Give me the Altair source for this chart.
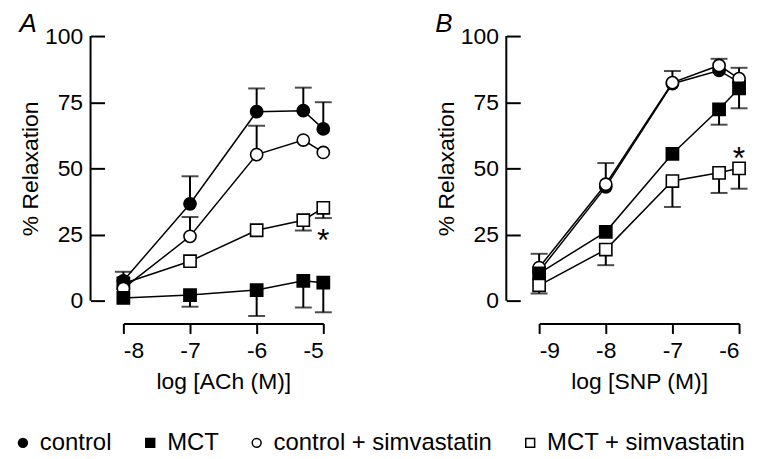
import altair as alt
import pandas as pd

series = ["control", "MCT", "control + simvastatin", "MCT + simvastatin"]
draw_order = [1, 3, 2, 0]

# Panel A: ACh
a_x = [-8, -7, -6, -5.3, -5]
a_control = [7.5, 36.6, 71.4, 71.8, 64.9]
a_control_err = [10.9, 47.0, 80.2, 80.5, 75.0]
a_mct = [1.0, 2.1, 4.0, 7.5, 6.8]
a_mct_err = [None, -2.3, -5.8, -2.6, -4.4]
a_csim = [4.6, 24.3, 55.2, 60.7, 56.0]
a_csim_err = [None, 31.6, 66.1, None, None]
a_msim = [6.5, 14.9, 26.6, 30.4, 35.1]
a_msim_err = [None, None, None, 26.5, 31.2]
a_star = [-5, 24.7]

# Panel B: SNP
b_x = [-9, -8, -7, -6.3, -6]
b_control = [11.0, 43.0, 82.0, 87.0, 82.5]
b_control_err = [None, None, None, None, None]
b_mct = [10.3, 26.0, 55.5, 72.3, 80.2]
b_mct_err = [None, None, None, 66.5, 72.7]
b_csim = [12.5, 44.0, 82.4, 88.9, 83.9]
b_csim_err = [17.7, 52.0, 86.8, 91.4, 88.0]
b_msim = [5.8, 19.3, 45.2, 48.3, 50.0]
b_msim_err = [2.7, 13.4, 35.4, 40.7, 42.3]
b_star = [-6, 55.8]

y_ticks = [0, 25, 50, 75, 100]
a_ticks = [-8, -7, -6, -5]
b_ticks = [-9, -8, -7, -6]

FONT = "Liberation Sans"
FS = 23


def build(xs, cols, errs):
    rows = []
    for k, (name, vals, ev) in enumerate(zip(series, cols, errs)):
        for x, v, e in zip(xs, vals, ev):
            rows.append({"x": x, "y": v, "err": e, "series": name, "order": draw_order[k]})
    return pd.DataFrame(rows)


shape_scale = alt.Scale(domain=series, range=["circle", "square", "circle", "square"])
fill_scale = alt.Scale(domain=series, range=["black", "black", "white", "white"])
stroke_scale = alt.Scale(domain=series, range=["black", "black", "black", "black"])
legend = alt.Legend(
    title=None, orient="none", direction="horizontal", legendX=-113, legendY=397,
    labelFontSize=24, labelFont=FONT, labelLimit=500, symbolSize=80,
    symbolStrokeColor="black", symbolStrokeWidth=1.5, columnPadding=26,
    labelOffset=5, labelColor="black", padding=0,
)


def panel(df, ticks, domain, xtitle, star, letter):
    xs = alt.Scale(domain=domain, nice=False, zero=False)
    ys = alt.Scale(domain=[0, 100], nice=False, zero=False)
    xaxis = alt.Axis(values=ticks, labelExpr="'' + datum.value", offset=23, tickSize=10,
                     tickWidth=2, domainWidth=2, domainColor="black", tickColor="black",
                     labelFontSize=FS, labelFont=FONT, labelColor="black", labelPadding=6,
                     title=xtitle, titleFont=FONT, titleFontSize=FS, titleFontWeight="normal",
                     titleColor="black", titlePadding=8, grid=False)
    yaxis = alt.Axis(values=y_ticks, offset=19, tickSize=14, tickWidth=2, tickColor="black",
                     domain=False, labelFontSize=FS, labelFont=FONT, labelColor="black",
                     labelPadding=8, title="% Relaxation", titleFont=FONT, titleFontSize=FS,
                     titleFontWeight="normal", titleColor="black", titlePadding=2, grid=False)
    base = alt.Chart(df)
    lines = base.mark_line(color="black", strokeWidth=1.5).encode(
        x=alt.X("x:Q", scale=xs, axis=xaxis),
        y=alt.Y("y:Q", scale=ys, axis=yaxis),
        detail="series:N",
    )
    eb = base.transform_filter("isValid(datum.err)")
    bars = eb.mark_rule(color="black", strokeWidth=2).encode(
        x="x:Q", y="y:Q", y2="err:Q")
    caps = eb.mark_tick(color="black", orient="horizontal", size=17, thickness=2).encode(
        x="x:Q", y="err:Q")
    pts = base.mark_point(filled=False, strokeWidth=1.6, size=150, opacity=1).encode(
        x="x:Q", y="y:Q",
        shape=alt.Shape("series:N", scale=shape_scale, legend=legend),
        fill=alt.Fill("series:N", scale=fill_scale, legend=legend),
        stroke=alt.Stroke("series:N", scale=stroke_scale, legend=legend),
        order="order:Q",
    )
    dom = alt.Chart(pd.DataFrame({"y0": [y_ticks[0]], "y1": [y_ticks[-1]]})).mark_rule(
        color="black", strokeWidth=2).encode(
        x=alt.value(-33), y=alt.Y("y0:Q", scale=ys), y2="y1:Q")
    st = alt.Chart(pd.DataFrame({"x": [star[0]], "y": [star[1]], "t": ["*"]})).mark_text(
        fontSize=32, font=FONT, baseline="middle", align="center", color="black", dy=6).encode(
        x="x:Q", y="y:Q", text="t:N")
    return alt.layer(dom, lines, bars, caps, pts, st).properties(
        width=201, height=266,
        title=alt.TitleParams(letter, anchor="start", frame="bounds", fontSize=26,
                              fontStyle="italic", fontWeight="normal", font=FONT,
                              color="black", offset=-12),
    )


dfa = build(a_x, [a_control, a_mct, a_csim, a_msim], [a_control_err, a_mct_err, a_csim_err, a_msim_err])
dfb = build(b_x, [b_control, b_mct, b_csim, b_msim], [b_control_err, b_mct_err, b_csim_err, b_msim_err])

pa = panel(dfa, a_ticks, [-8, -5], "log [ACh (M)]", a_star, "A")
pb = panel(dfb, b_ticks, [-9, -6], "log [SNP (M)]", b_star, "B")

chart = alt.hconcat(pa, pb, spacing=102).properties(
    padding={"left": 3, "top": 2, "right": 0, "bottom": 0}
).configure_view(stroke=None)

chart.save("out.html", embed_options={"renderer": "svg", "actions": False})
